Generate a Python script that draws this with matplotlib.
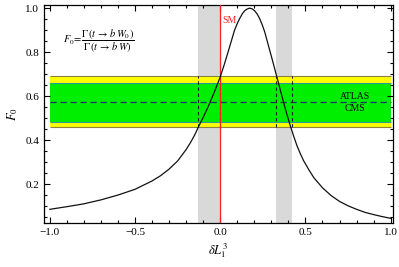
import matplotlib
matplotlib.use("Agg")
import matplotlib.pyplot as plt
from matplotlib.ticker import MultipleLocator

# curve
dl = [-1.0, -0.9, -0.8, -0.7, -0.6, -0.5, -0.4, -0.35, -0.3, -0.25, -0.2, -0.175,
      -0.15, -0.128, -0.1, -0.075, -0.05, -0.025, 0.0, 0.025, 0.055, 0.084, 0.1,
      0.114, 0.13, 0.143, 0.158, 0.172, 0.187, 0.202, 0.217, 0.231, 0.246, 0.261,
      0.275, 0.29, 0.305, 0.319, 0.333, 0.35, 0.37, 0.39, 0.41, 0.43, 0.45, 0.47,
      0.49, 0.52, 0.55, 0.6, 0.65, 0.7, 0.75, 0.8, 0.85, 0.9, 0.95, 1.0]
f0 = [0.085, 0.097, 0.110, 0.128, 0.150, 0.176, 0.214, 0.238, 0.268, 0.305, 0.357, 0.388,
      0.423, 0.460, 0.503, 0.545, 0.590, 0.637, 0.687, 0.747, 0.824, 0.900, 0.930,
      0.953, 0.975, 0.988, 0.996, 1.000, 0.997, 0.988, 0.973, 0.953, 0.925, 0.892,
      0.852, 0.809, 0.767, 0.726, 0.685, 0.635, 0.577, 0.520, 0.468, 0.420, 0.375, 0.338,
      0.305, 0.265, 0.228, 0.183, 0.148, 0.121, 0.101, 0.085, 0.071, 0.061, 0.052, 0.044]

# measurement bands
f0_mean = 0.571
inner = (0.48, 0.658)
outer = (0.46, 0.69)
allowed = [(-0.128, 0.0), (0.329, 0.424)]

plt.rcParams['font.family'] = ['Liberation Serif', 'DejaVu Serif']
plt.rcParams['mathtext.fontset'] = 'stix'

fig = plt.figure(figsize=(3.99, 2.67), dpi=100)
ax = fig.add_axes([0.110, 0.165, 0.875, 0.816])

for a, b in allowed:
    ax.axvspan(a, b, color='#d9d9d9', lw=0, zorder=0)

ax.fill_between([-1, 1], outer[0], outer[1], color='#ffff00', lw=0, zorder=1)
ax.fill_between([-1, 1], inner[0], inner[1], color='#00ee00', lw=0, zorder=1)
ax.hlines(outer, -1, 1, color='#8a8040', lw=0.8, zorder=2)
ax.hlines(inner, -1, 1, color='#2a9a9a', lw=0.8, zorder=2)
ax.hlines(f0_mean, -1, 1, color='#1c2f6e', lw=0.9, ls=(0, (5, 3)), zorder=3)

for a, b in allowed:
    ax.vlines([a, b], outer[0], outer[1], color='#222222', lw=0.8, ls=(0, (3, 2.5)), zorder=3)

ax.axvline(0.0, color='#ff2020', lw=0.9, zorder=4)
ax.plot(dl, f0, color='#111111', lw=0.9, zorder=5)

ax.text(0.012, 0.945, 'SM', color='#ff2020', fontsize=7, va='center', ha='left')
ax.text(0.79, 0.597, 'ATLAS', fontsize=7, ha='center', va='center')
ax.text(0.79, 0.545, 'CMS', fontsize=7, ha='center', va='center')
ax.text(-0.92, 0.85, r'$F_0\!=\!\dfrac{\Gamma\,(t\,\rightarrow\,b\,W_0)}{\Gamma\,(t\,\rightarrow\,b\,W)}$',
        fontsize=7.5, ha='left', va='center')

ax.set_xlim(-1.035, 1.014)
ax.set_ylim(0.023, 1.014)
ax.xaxis.set_major_locator(MultipleLocator(0.5))
ax.xaxis.set_minor_locator(MultipleLocator(0.1))
ax.yaxis.set_major_locator(MultipleLocator(0.2))
ax.yaxis.set_minor_locator(MultipleLocator(0.05))
ax.set_yticks([0.2, 0.4, 0.6, 0.8, 1.0])
ax.set_xticks([-1.0, -0.5, 0.0, 0.5, 1.0])
ax.set_xticklabels(['\u22121.0', '\u22120.5', '0.0', '0.5', '1.0'])
ax.tick_params(which='both', direction='in', top=True, right=True, labelsize=8, width=0.8)
ax.tick_params(which='major', length=4)
ax.tick_params(which='minor', length=2)
for s in ax.spines.values():
    s.set_linewidth(0.9)

ax.set_xlabel(r'$\delta L_1^3$', fontsize=9, labelpad=3)
ax.set_ylabel(r'$F_0$', fontsize=9, labelpad=4)

fig.savefig('out.png', dpi=100)
